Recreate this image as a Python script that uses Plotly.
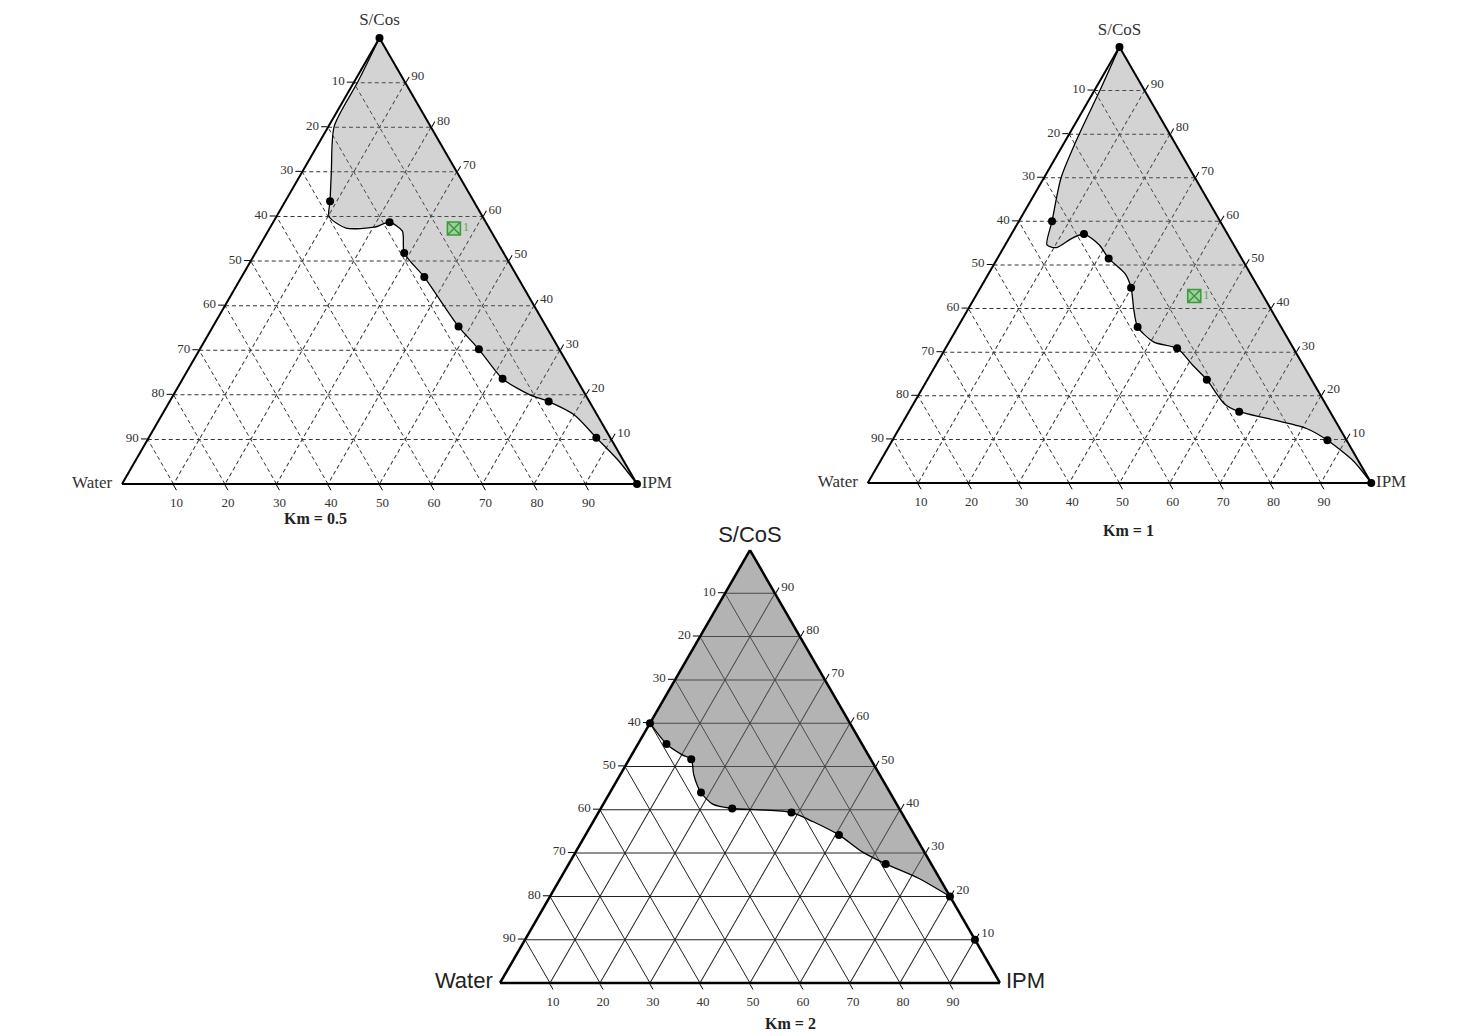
import plotly.graph_objects as go

# ---------------- data ----------------
tick_values = [10, 20, 30, 40, 50, 60, 70, 80, 90]
# labels shown at those tick positions (left edge = Water %, bottom = IPM %, right = S/CoS %)
water_tick_labels = ["90", "80", "70", "60", "50", "40", "30", "20", "10"]
ipm_tick_labels = ["90", "80", "70", "60", "50", "40", "30", "20", "10"]
scos_tick_labels = ["90", "80", "70", "60", "50", "40", "30", "20", "10"]

# Km = 0.5 : phase boundary curve (S/CoS, Water, IPM in %)
km05_curve_scos = [100, 90.3, 80.2, 70.1, 63.4, 60.0, 57.4, 57.6, 58.7, 56.7, 51.8, 46.4, 35.3, 30.2, 23.6, 20.0, 18.5, 15.5, 10.4, 5.4, 0]
km05_curve_water = [0, 9.0, 18.7, 24.3, 27.9, 29.8, 27.8, 22.2, 18.7, 17.2, 19.3, 18.1, 17.0, 15.6, 14.3, 10.8, 7.9, 4.4, 2.7, 1.0, 0]
km05_curve_ipm = [0, 0.7, 1.1, 5.6, 8.7, 10.2, 14.8, 20.2, 22.6, 26.1, 28.9, 35.5, 47.7, 54.2, 62.1, 69.2, 73.6, 80.1, 86.9, 93.6, 100]
km05_dots_scos = [100, 63.4, 58.7, 51.8, 46.4, 35.3, 30.2, 23.6, 18.5, 10.4, 0]
km05_dots_water = [0, 27.9, 18.7, 19.3, 18.1, 17.0, 15.6, 14.3, 7.9, 2.7, 0]
km05_dots_ipm = [0, 8.7, 22.6, 28.9, 35.5, 47.7, 54.2, 62.1, 73.6, 86.9, 100]
km05_formulation = dict(scos=[57.3], water=[6.9], ipm=[35.8], label=["1"])

# Km = 1
km1_curve_scos = [100, 90.0, 80.0, 70.0, 60.0, 54.6, 54.0, 56.1, 57.1, 54.6, 51.5, 48.0, 44.8, 39.7, 35.8, 32.3, 30.9, 26.9, 23.7, 18.2, 16.35, 14.8, 12.5, 9.8, 5.0, 0]
km1_curve_water = [0, 8.9, 18.0, 26.6, 33.4, 37.1, 35.5, 31.4, 28.5, 26.7, 26.4, 24.9, 25.3, 27.3, 28.5, 27.0, 23.1, 21.9, 20.8, 20.1, 18.05, 13.2, 6.6, 3.8, 1.0, 0]
km1_curve_ipm = [0, 1.1, 2.0, 3.4, 6.6, 8.3, 10.5, 12.5, 14.4, 18.7, 22.1, 27.1, 29.9, 33.0, 35.7, 40.7, 46.0, 51.2, 55.5, 61.7, 65.6, 72.0, 80.9, 86.4, 94.0, 100]
km1_dots_scos = [100, 60.0, 57.1, 51.5, 44.8, 35.8, 30.9, 23.7, 16.35, 9.8, 0]
km1_dots_water = [0, 33.4, 28.5, 26.4, 25.3, 28.5, 23.1, 20.8, 18.05, 3.8, 0]
km1_dots_ipm = [0, 6.6, 14.4, 22.1, 29.9, 35.7, 46.0, 55.5, 65.6, 86.4, 100]
km1_formulation = dict(scos=[42.9], water=[13.7], ipm=[43.4], label=["1"])

# Km = 2 (region boundary: S/CoS apex, then curve from the Water/S/CoS edge to the IPM/S/CoS edge)
km2_curve_scos = [60.0, 55.2, 52.7, 51.7, 48.1, 44.0, 41.3, 40.3, 40.0, 39.4, 37.3, 34.2, 30.4, 27.5, 24.2, 20.0]
km2_curve_water = [40.0, 39.1, 37.2, 35.9, 37.2, 37.8, 36.8, 33.4, 28.1, 22.0, 18.8, 15.1, 12.5, 9.1, 4.2, 0.0]
km2_curve_ipm = [0.0, 5.7, 10.1, 12.4, 14.7, 18.2, 21.9, 26.3, 31.9, 38.6, 43.9, 50.7, 57.1, 63.4, 71.6, 80.0]
km2_dots_scos = [60.0, 55.2, 51.7, 44.0, 40.3, 39.4, 34.2, 27.5, 20.0, 10.0]
km2_dots_water = [40.0, 39.1, 35.9, 37.8, 33.4, 22.0, 15.1, 9.1, 0.0, 0.0]
km2_dots_ipm = [0.0, 5.7, 12.4, 18.2, 26.3, 38.6, 50.7, 63.4, 80.0, 90.0]
km2_apex = dict(scos=[100], water=[0], ipm=[0])

vertex_scos = [100, 0, 0]
vertex_water = [0, 100, 0]
vertex_ipm = [0, 0, 100]

panel_captions = ["Km = 0.5", "Km = 1", "Km = 2"]

# ---------------- styling ----------------
SERIF = "Liberation Serif, Times New Roman, serif"
SANS = "Liberation Sans, Arial, sans-serif"

fig = go.Figure()


def add_panel(subplot, fill_a, fill_b, fill_c, crv_a, crv_b, crv_c,
              dot_a, dot_b, dot_c, fillcolor, vertex_names, vfont, label_pad, form=None):
    fig.add_trace(go.Scatterternary(
        subplot=subplot, a=fill_a, b=fill_b, c=fill_c, mode="lines",
        fill="toself", fillcolor=fillcolor, line=dict(width=0),
        hoverinfo="skip"))
    fig.add_trace(go.Scatterternary(
        subplot=subplot, a=crv_a, b=crv_b, c=crv_c, mode="lines",
        line=dict(color="black", width=1.3, shape="spline", smoothing=0.7),
        hoverinfo="skip"))
    fig.add_trace(go.Scatterternary(
        subplot=subplot, a=dot_a, b=dot_b, c=dot_c, mode="markers",
        marker=dict(color="black", size=8), cliponaxis=False))
    if form is not None:
        fig.add_trace(go.Scatterternary(
            subplot=subplot, a=form["scos"], b=form["water"], c=form["ipm"],
            mode="markers+text", text=form["label"], textposition="middle right",
            textfont=dict(family=SERIF, size=12, color="#5aa55a"),
            marker=dict(symbol="square-x", size=13, color="#9fd19f",
                        line=dict(color="#3d9a3d", width=1.6))))
    # vertex names (invisible markers only set the gap between corner and text)
    fig.add_trace(go.Scatterternary(
        subplot=subplot, a=vertex_scos, b=vertex_water, c=vertex_ipm,
        mode="markers+text", text=vertex_names, cliponaxis=False,
        marker=dict(size=label_pad, opacity=0),
        textposition=["top center", "middle left", "middle right"],
        textfont=vfont, hoverinfo="skip"))


# Km = 0.5
add_panel("ternary", km05_curve_scos, km05_curve_water, km05_curve_ipm,
          km05_curve_scos, km05_curve_water, km05_curve_ipm,
          km05_dots_scos, km05_dots_water, km05_dots_ipm,
          "rgba(120,120,120,0.33)", ["S/Cos", "Water", "IPM"],
          dict(family=SERIF, size=17, color="#333333"), [12, 14, 6], km05_formulation)

# Km = 1
add_panel("ternary2", km1_curve_scos, km1_curve_water, km1_curve_ipm,
          km1_curve_scos, km1_curve_water, km1_curve_ipm,
          km1_dots_scos, km1_dots_water, km1_dots_ipm,
          "rgba(120,120,120,0.33)", ["S/CoS", "Water", "IPM"],
          dict(family=SERIF, size=17, color="#333333"), [10, 14, 6], km1_formulation)

# Km = 2
add_panel("ternary3",
          km2_apex["scos"] + km2_curve_scos, km2_apex["water"] + km2_curve_water,
          km2_apex["ipm"] + km2_curve_ipm,
          km2_curve_scos, km2_curve_water, km2_curve_ipm,
          km2_dots_scos, km2_dots_water, km2_dots_ipm,
          "rgba(110,110,110,0.52)", ["S/CoS", "Water", "IPM"],
          dict(family=SANS, size=22, color="#222222"), [2, 10, 8])


def axis(labels, dash, gcolor, lw, tfont):
    return dict(min=0, tickmode="array", tickvals=tick_values, ticktext=labels,
                ticks="outside", ticklen=6, tickwidth=1, tickcolor="black",
                showline=True, linecolor="black", linewidth=lw,
                showgrid=True, gridcolor=gcolor, gridwidth=1, griddash=dash,
                tickfont=tfont, title=dict(text=""))


def tern(dx, dy, dash, gcolor, lw, tfont):
    return dict(domain=dict(x=dx, y=dy), sum=100, bgcolor="white",
                aaxis=axis(water_tick_labels, dash, gcolor, lw, tfont),
                baxis=axis(ipm_tick_labels, dash, gcolor, lw, tfont),
                caxis=axis(scos_tick_labels, dash, gcolor, lw, tfont))


tick_font = dict(family=SERIF, size=13, color="#333333")
cap_font = dict(family=SERIF, size=16, color="#222222")

fig.update_layout(
    width=1462, height=1036,
    margin=dict(l=0, r=0, t=0, b=0),
    paper_bgcolor="white",
    showlegend=False,
    ternary=tern([0.0489, 0.4593], [0.5405, 0.9710], "4px,3px", "#333333", 2, tick_font),
    ternary2=tern([0.5551, 0.9654], [0.5415, 0.9624], "4px,3px", "#333333", 2, tick_font),
    ternary3=tern([0.3023, 0.7127], [0.0589, 0.4768], "solid", "#222222", 2.5, tick_font),
    annotations=[
        dict(text="<b>" + panel_captions[0] + "</b>", x=0.2100, y=0.5068, xref="paper", yref="paper",
             xanchor="center", yanchor="middle", showarrow=False, font=cap_font),
        dict(text="<b>" + panel_captions[1] + "</b>", x=0.7661, y=0.4952, xref="paper", yref="paper",
             xanchor="center", yanchor="middle", showarrow=False, font=cap_font),
        dict(text="<b>" + panel_captions[2] + "</b>", x=0.5349, y=0.0195, xref="paper", yref="paper",
             xanchor="center", yanchor="middle", showarrow=False, font=cap_font),
    ],
)

fig.write_html("out.html")
